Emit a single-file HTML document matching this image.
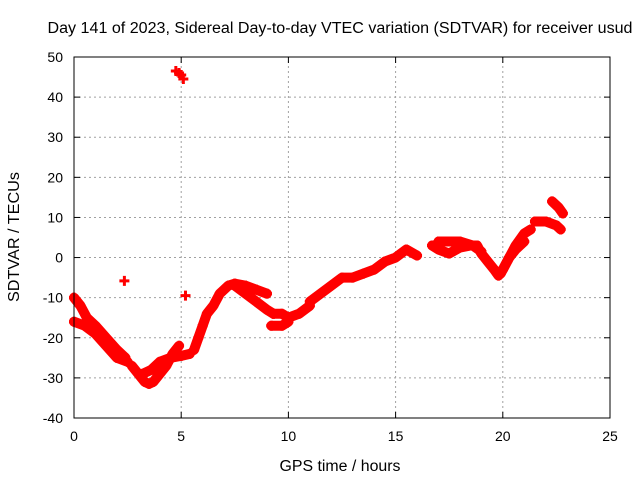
<!DOCTYPE html>
<html><head><meta charset="utf-8"><style>
body{margin:0;background:#fff;}
svg text{font-family:"Liberation Sans",sans-serif;fill:#000;}
</style></head><body>
<svg width="640" height="480" xmlns="http://www.w3.org/2000/svg">
<text x="340" y="33" font-size="15.5" text-anchor="middle" textLength="585" lengthAdjust="spacingAndGlyphs">Day 141 of 2023, Sidereal Day-to-day VTEC variation (SDTVAR) for receiver usud</text>
<text x="340" y="471" font-size="15.5" text-anchor="middle" textLength="121" lengthAdjust="spacingAndGlyphs">GPS time / hours</text>
<text x="19" y="237" font-size="15.5" text-anchor="middle" textLength="130" lengthAdjust="spacingAndGlyphs" transform="rotate(-90 19 237)">SDTVAR / TECUs</text>
<g id="grid"></g><g id="ticks"></g><g id="marks"></g>
<rect x="74" y="57" width="536" height="361" fill="none" stroke="#000" stroke-width="1"/>
</svg>
<script>
const xTicks=[0,5,10,15,20,25];
const yTicks=[-40,-30,-20,-10,0,10,20,30,40,50];
const arcA1x=[0,0.3,0.6,1,1.5,2,2.4], arcA1y=[-10,-12,-15,-17,-20,-23,-25];
const arcA2x=[0,0.5,1,1.5,2,2.5], arcA2y=[-16,-17,-19,-22,-25,-26];
const arcA3x=[2.7,3,3.3,3.5,3.7,4,4.3,4.6,4.9], arcA3y=[-27,-29,-31,-31.5,-31,-29,-27,-24,-22];
const arcA3bx=[3.2,3.6,4,4.5,5,5.4], arcA3by=[-29,-28,-26,-25,-24.5,-24];
const arcA4x=[5.6,5.8,6,6.2,6.5,6.8,7.2,7.5,8,8.5,9], arcA4y=[-23,-20,-17,-14,-12,-9,-7,-6.5,-7,-8,-9];
const arcA4bx=[7.5,8,8.5,9,9.3], arcA4by=[-7,-9,-11,-13,-14];
const arcA5x=[9.3,9.7,10,10.5,11], arcA5y=[-14,-14,-15,-14,-12];
const arcA5bx=[9.2,9.7,10], arcA5by=[-17,-17,-16];
const arcA6x=[11,11.5,12,12.5,13,13.5,14,14.5,15,15.5,16], arcA6y=[-11,-9,-7,-5,-5,-4,-3,-1,0,2,0.5];
const arcA7x=[16.7,17,17.5,18,18.5,18.8,19,19.3,19.6,19.8,20,20.3,20.6,21], arcA7y=[3,2,1,2.5,3,3,1,-1,-3,-4.5,-3,0,2,4];
const arcA7bx=[17,17.5,18,18.6,19], arcA7by=[4,4,4,3,1.5];
const arcA8x=[19.9,20.2,20.6,21,21.3], arcA8y=[-4,-1,3,6,7];
const arcA9x=[21.5,22,22.5,22.7], arcA9y=[9,9,8,7];
const arcA10x=[22.3,22.6,22.8], arcA10y=[14,12.5,11];
const isoX=[2.35,4.75,4.9,5.0,5.1,5.2], isoY=[-5.8,46.5,46,45.5,44.5,-9.5];
const arcsX=[arcA1x,arcA2x,arcA3x,arcA3bx,arcA4x,arcA4bx,arcA5x,arcA5bx,arcA6x,arcA7x,arcA7bx,arcA8x,arcA9x,arcA10x];
const arcsY=[arcA1y,arcA2y,arcA3y,arcA3by,arcA4y,arcA4by,arcA5y,arcA5by,arcA6y,arcA7y,arcA7by,arcA8y,arcA9y,arcA10y];
const NS="http://www.w3.org/2000/svg";
const X0=74,X1=610,Y0=418,Y1=57;
function sx(v){return X0+(v-0)/(25-0)*(X1-X0);}
function sy(v){return Y0-(v+40)/(90)*(Y0-Y1);}
function mk(t,a,p){const e=document.createElementNS(NS,t);for(const k in a)e.setAttribute(k,a[k]);p.appendChild(e);return e;}
const grid=document.getElementById('grid'),ticks=document.getElementById('ticks'),marks=document.getElementById('marks');
xTicks.forEach(t=>{const x=sx(t);
 if(t>0&&t<25){const l=mk('line',{x1:x,x2:x,y1:Y0,y2:Y1,stroke:'#a0a0a0','stroke-dasharray':'2,3'},grid);
 
 }
 mk('line',{x1:x,x2:x,y1:Y0,y2:Y0-6,stroke:'#000'},ticks);mk('line',{x1:x,x2:x,y1:Y1,y2:Y1+6,stroke:'#000'},ticks);
 const tx=mk('text',{x:x,y:Y0+23,'font-size':14,'text-anchor':'middle'},ticks);tx.textContent=t;
 
 });
yTicks.forEach(t=>{const y=sy(t);
 if(t>-40&&t<50){const l=mk('line',{x1:X0,x2:X1,y1:y,y2:y,stroke:'#a0a0a0','stroke-dasharray':'2,3'},grid);
 
 }
 mk('line',{x1:X0,x2:X0+6,y1:y,y2:y,stroke:'#000'},ticks);mk('line',{x1:X1,x2:X1-6,y1:y,y2:y,stroke:'#000'},ticks);
 const tx=mk('text',{x:X0-11,y:y+5,'font-size':14,'text-anchor':'end'},ticks);tx.textContent=t;
 
 });
function plus(x,y){const p=mk('path',{d:`M${x-5},${y}h10M${x},${y-5}v10`,stroke:'#f00','stroke-width':3},marks);
 
 }
arcsX.forEach((xs,i)=>{const ys=arcsY[i];
 const pl=mk('polyline',{points:xs.map((v,j)=>sx(v)+','+sy(ys[j])).join(' '),fill:'none',stroke:'#f00','stroke-width':10,'stroke-linejoin':'round','stroke-linecap':'round'},marks);
 
 
 xs.forEach((v,j)=>plus(sx(v),sy(ys[j])));});
isoX.forEach((v,i)=>plus(sx(v),sy(isoY[i])));
</script>
</body></html>
